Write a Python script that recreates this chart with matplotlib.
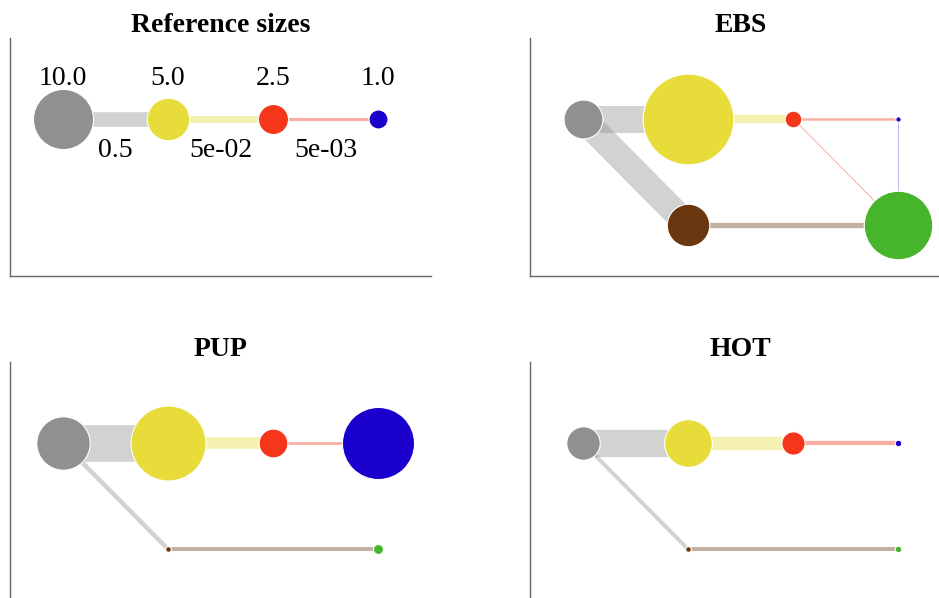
import numpy as np
from matplotlib import pyplot as plt

# node colours
node_colors = {
    'A': '#8f918e',
    'B': '#e8dc3a',
    'C': '#f5361a',
    'D': '#1a00cc',
    'E': '#6a3810',
    'F': '#46b52c',
}

# panel data: node values and flows between nodes
ref_nodes = {'A': 10.0, 'B': 5.0, 'C': 2.5, 'D': 1.0}
ref_edges = [('A', 'B', 0.5), ('B', 'C', 5e-02), ('C', 'D', 5e-03)]

ebs_nodes = {'A': 4.2, 'B': 22.8, 'C': 0.77, 'D': 0.08, 'E': 5.0, 'F': 13.0}
ebs_edges = [('A', 'B', 3.1), ('A', 'E', 2.8), ('B', 'C', 0.09), ('C', 'D', 0.0025),
             ('C', 'F', 0.00016), ('D', 'F', 0.00005), ('E', 'F', 0.0235)]

pup_nodes = {'A': 7.9, 'B': 15.6, 'C': 2.3, 'D': 14.4, 'E': 0.09, 'F': 0.28}
pup_edges = [('A', 'B', 7.8), ('A', 'E', 0.0144), ('B', 'C', 0.25), ('C', 'D', 0.0031),
             ('E', 'F', 0.0101)]

hot_nodes = {'A': 3.1, 'B': 6.3, 'C': 1.5, 'D': 0.12, 'E': 0.09, 'F': 0.12}
hot_edges = [('A', 'B', 3.2), ('A', 'E', 0.01), ('B', 'C', 0.37), ('C', 'D', 0.0126),
             ('E', 'F', 0.01)]

# grid layout of nodes (column, row)
layout = {'A': (0, 1), 'B': (1, 1), 'C': (2, 1), 'D': (3, 1), 'E': (1, 0), 'F': (3, 0)}

PX = 0.72  # points per pixel at dpi 100


def draw_panel(ax, title, nodes, edges, labels=False):
    for a, b, v in edges:
        x0, y0 = layout[a]
        x1, y1 = layout[b]
        w = 18.5 * v ** (1 / 3) * PX
        ax.plot([x0, x1], [y0, y1], color=node_colors[a], alpha=0.4, lw=w,
                solid_capstyle='butt', zorder=1)
        if labels:
            ax.text((x0 + x1) / 2, y0 - 0.30, f'{v:.1f}' if v >= 0.1 else f'{v:.0e}',
                    ha='center', va='center', fontsize=20, family='Liberation Serif')
    for n, v in nodes.items():
        x, y = layout[n]
        d = 2 * 9.5 * np.sqrt(v) * PX
        ax.scatter([x], [y], s=d ** 2, color=node_colors[n], edgecolors='white',
                   linewidths=0.8, zorder=2)
        if labels:
            ax.text(x, y + 0.38, f'{v:.1f}', ha='center', va='center', fontsize=20,
                    family='Liberation Serif')
    ax.set_xlim(-0.5, 3.5)
    ax.set_ylim(-0.48, 1.76)
    ax.set_xticks([])
    ax.set_yticks([])
    for s in ['top', 'right']:
        ax.spines[s].set_visible(False)
    for s in ['left', 'bottom']:
        ax.spines[s].set_color('#666666')
        ax.spines[s].set_linewidth(1.0)
    ax.set_title(title, fontsize=20, fontweight='bold', family='Liberation Serif', pad=4)


fig = plt.figure(figsize=(9.39, 5.98), dpi=100)
W, H = 939, 598
ax1 = fig.add_axes([10 / W, (H - 276) / H, 421 / W, 238 / H])
ax2 = fig.add_axes([530 / W, (H - 276) / H, 421 / W, 238 / H])
ax3 = fig.add_axes([10 / W, (H - 600) / H, 421 / W, 238 / H])
ax4 = fig.add_axes([530 / W, (H - 600) / H, 421 / W, 238 / H])

draw_panel(ax1, 'Reference sizes', ref_nodes, ref_edges, labels=True)
draw_panel(ax2, 'EBS', ebs_nodes, ebs_edges)
draw_panel(ax3, 'PUP', pup_nodes, pup_edges)
draw_panel(ax4, 'HOT', hot_nodes, hot_edges)

fig.savefig('out.png', dpi=100)
